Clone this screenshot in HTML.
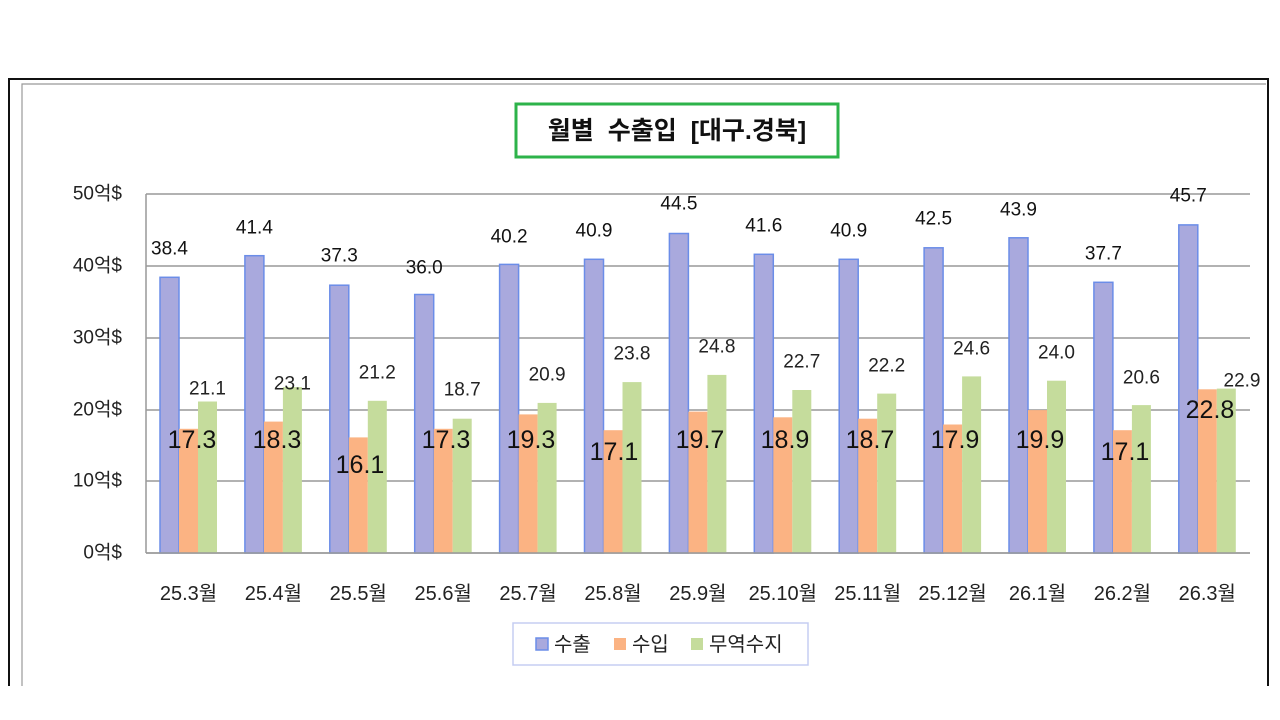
<!DOCTYPE html>
<html><head><meta charset="utf-8"><style>
html,body{margin:0;padding:0;background:#fff;}
svg{display:block;font-family:"Liberation Sans","Noto Sans CJK KR",sans-serif;}
</style></head><body>
<svg width="1280" height="720" viewBox="0 0 1280 720" xmlns="http://www.w3.org/2000/svg">
<rect width="1280" height="720" fill="#fff"/>
<path d="M9 686 V79 H1268 V686" fill="none" stroke="#111" stroke-width="2"/>
<path d="M22 686 V84 H1266" fill="none" stroke="#999" stroke-width="1.2"/>
<rect x="516" y="104" width="322" height="53" fill="#fff" stroke="#2db34a" stroke-width="3"/>
<text x="677" y="131" text-anchor="middle" dominant-baseline="central" font-size="25" font-weight="bold" fill="#111" xml:space="preserve" style="white-space:pre">월별  수출입  [대구.경북]</text>
<g stroke="#999" stroke-width="1.5">
<line x1="146" y1="194" x2="1250" y2="194"/>
<line x1="146" y1="266" x2="1250" y2="266"/>
<line x1="146" y1="338" x2="1250" y2="338"/>
<line x1="146" y1="410" x2="1250" y2="410"/>
<line x1="146" y1="481" x2="1250" y2="481"/>
<line x1="146" y1="553" x2="1250" y2="553"/>
<line x1="146" y1="194" x2="146" y2="553"/>
</g>
<g font-size="19" fill="#222" text-anchor="end" dominant-baseline="central">
<text x="122" y="194">50억$</text><text x="122" y="266">40억$</text><text x="122" y="338">30억$</text>
<text x="122" y="410">20억$</text><text x="122" y="481">10억$</text><text x="122" y="553">0억$</text>
</g>
<g fill="#a9a9dd" stroke="#6b8de8" stroke-width="1.5">
<rect x="160.0" y="277.3" width="19" height="275.7"/>
<rect x="244.9" y="255.7" width="19" height="297.3"/>
<rect x="329.8" y="285.2" width="19" height="267.8"/>
<rect x="414.7" y="294.5" width="19" height="258.5"/>
<rect x="499.6" y="264.4" width="19" height="288.6"/>
<rect x="584.5" y="259.3" width="19" height="293.7"/>
<rect x="669.4" y="233.5" width="19" height="319.5"/>
<rect x="754.3" y="254.3" width="19" height="298.7"/>
<rect x="839.2" y="259.3" width="19" height="293.7"/>
<rect x="924.1" y="247.8" width="19" height="305.2"/>
<rect x="1009.0" y="237.8" width="19" height="315.2"/>
<rect x="1093.9" y="282.3" width="19" height="270.7"/>
<rect x="1178.8" y="224.9" width="19" height="328.1"/>
</g>
<g fill="#fbb383">
<rect x="179.0" y="428.8" width="19" height="124.2"/>
<rect x="263.9" y="421.6" width="19" height="131.4"/>
<rect x="348.8" y="437.4" width="19" height="115.6"/>
<rect x="433.7" y="428.8" width="19" height="124.2"/>
<rect x="518.6" y="414.4" width="19" height="138.6"/>
<rect x="603.5" y="430.2" width="19" height="122.8"/>
<rect x="688.4" y="411.6" width="19" height="141.4"/>
<rect x="773.3" y="417.3" width="19" height="135.7"/>
<rect x="858.2" y="418.7" width="19" height="134.3"/>
<rect x="943.1" y="424.5" width="19" height="128.5"/>
<rect x="1028.0" y="410.1" width="19" height="142.9"/>
<rect x="1112.9" y="430.2" width="19" height="122.8"/>
<rect x="1197.8" y="389.3" width="19" height="163.7"/>
</g>
<g fill="#c5dc9c">
<rect x="198.0" y="401.5" width="19" height="151.5"/>
<rect x="282.9" y="387.1" width="19" height="165.9"/>
<rect x="367.8" y="400.8" width="19" height="152.2"/>
<rect x="452.7" y="418.7" width="19" height="134.3"/>
<rect x="537.6" y="402.9" width="19" height="150.1"/>
<rect x="622.5" y="382.1" width="19" height="170.9"/>
<rect x="707.4" y="374.9" width="19" height="178.1"/>
<rect x="792.3" y="390.0" width="19" height="163.0"/>
<rect x="877.2" y="393.6" width="19" height="159.4"/>
<rect x="962.1" y="376.4" width="19" height="176.6"/>
<rect x="1047.0" y="380.7" width="19" height="172.3"/>
<rect x="1131.9" y="405.1" width="19" height="147.9"/>
<rect x="1216.8" y="388.6" width="19" height="164.4"/>
</g>
<line x1="146" y1="553" x2="1250" y2="553" stroke="#999" stroke-width="1.5"/>
<g font-size="19" fill="#111" text-anchor="middle" dominant-baseline="central">
<text x="169.5" y="249">38.4</text><text x="254.4" y="228">41.4</text><text x="339.3" y="256">37.3</text>
<text x="424.2" y="268">36.0</text><text x="509.1" y="237">40.2</text><text x="594" y="231">40.9</text>
<text x="678.9" y="204">44.5</text><text x="763.8" y="226">41.6</text><text x="848.7" y="231">40.9</text>
<text x="933.6" y="219">42.5</text><text x="1018.5" y="210">43.9</text><text x="1103.4" y="254">37.7</text>
<text x="1188.3" y="196">45.7</text>
</g>
<g font-size="19" fill="#222" text-anchor="middle" dominant-baseline="central">
<text x="207.5" y="389">21.1</text><text x="292.4" y="384">23.1</text><text x="377.3" y="373">21.2</text>
<text x="462.2" y="390">18.7</text><text x="547.1" y="375">20.9</text><text x="632" y="354">23.8</text>
<text x="716.9" y="347">24.8</text><text x="801.8" y="362">22.7</text><text x="886.7" y="366">22.2</text>
<text x="971.6" y="349">24.6</text><text x="1056.5" y="353">24.0</text><text x="1141.4" y="378">20.6</text>
<text x="1242" y="381">22.9</text>
</g>
<g font-size="25" fill="#111" text-anchor="middle" dominant-baseline="central">
<text x="192" y="440">17.3</text><text x="277" y="440">18.3</text><text x="360" y="465">16.1</text>
<text x="446" y="440">17.3</text><text x="531" y="440">19.3</text><text x="614" y="452">17.1</text>
<text x="700" y="440">19.7</text><text x="785" y="440">18.9</text><text x="870" y="440">18.7</text>
<text x="955" y="440">17.9</text><text x="1040" y="440">19.9</text><text x="1125" y="452">17.1</text>
<text x="1210" y="410">22.8</text>
</g>
<g font-size="20" fill="#222" text-anchor="middle" dominant-baseline="central">
<text x="188.5" y="594">25.3월</text><text x="273.4" y="594">25.4월</text><text x="358.3" y="594">25.5월</text>
<text x="443.2" y="594">25.6월</text><text x="528.1" y="594">25.7월</text><text x="613" y="594">25.8월</text>
<text x="697.9" y="594">25.9월</text><text x="782.8" y="594">25.10월</text><text x="867.7" y="594">25.11월</text>
<text x="952.6" y="594">25.12월</text><text x="1037.5" y="594">26.1월</text><text x="1122.4" y="594">26.2월</text>
<text x="1207.3" y="594">26.3월</text>
</g>
<rect x="513" y="623" width="295" height="42" fill="#fff" stroke="#c5cdf2" stroke-width="1.5"/>
<rect x="536" y="638" width="12" height="12" fill="#a9a9dd" stroke="#6b8de8" stroke-width="1.5"/>
<text x="554" y="645" font-size="20" fill="#222" dominant-baseline="central">수출</text>
<rect x="614" y="638" width="12" height="12" fill="#fbb383"/>
<text x="632" y="645" font-size="20" fill="#222" dominant-baseline="central">수입</text>
<rect x="691" y="638" width="12" height="12" fill="#c5dc9c"/>
<text x="709" y="645" font-size="20" fill="#222" dominant-baseline="central">무역수지</text>
</svg>
</body></html>
